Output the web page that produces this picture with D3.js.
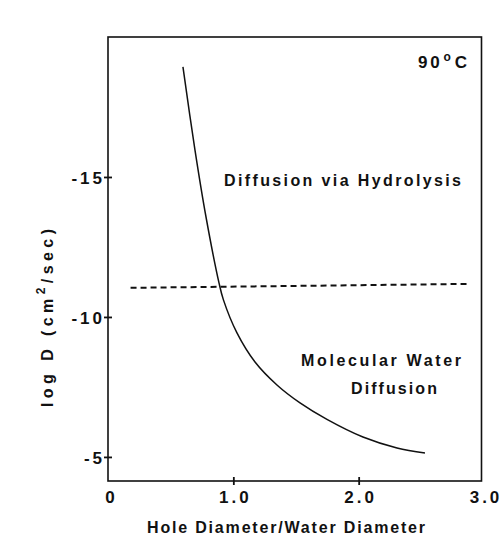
<!DOCTYPE html>
<html>
<head>
<meta charset="utf-8">
<script src="https://cdn.jsdelivr.net/npm/d3@7"></script>
<style>
  body { margin: 0; background: #fff; }
  text { font-family: "Liberation Sans", Arial, sans-serif; font-weight: bold; fill: #111; }
</style>
</head>
<body>
<svg id="chart" width="503" height="535"></svg>
<script>
// curve: hole/water diameter ratio vs log D
const ratio = [0.598, 0.694, 0.782, 0.886, 0.921, 1.029, 1.173, 1.348, 1.532, 1.747, 2.034, 2.306, 2.529];
const logD = [-18.93, -15.96, -13.57, -11.21, -10.61, -9.43, -8.39, -7.57, -6.93, -6.34, -5.71, -5.32, -5.14];

// dashed boundary between the two regimes
const boundaryX = [0.18, 2.87];
const boundaryY = [-11.04, -11.18];

const xTicks = [0, 1, 2, 3];
const xTickLabels = ['0', '1.0', '2.0', '3.0'];
const yTicks = [-15, -10, -5];

const svg = d3.select('#chart');

const x = d3.scaleLinear().domain([0, 3]).range([108, 484]);
// inverted: more negative values sit higher up
const y = d3.scaleLinear().domain([-20, -4.14]).range([37, 481]);

// frame
svg.append('rect')
    .attr('x', x(0)).attr('y', y(-20))
    .attr('width', x(2.98) - x(0)).attr('height', y(-4.14) - y(-20))
    .attr('fill', 'none').attr('stroke', '#111').attr('stroke-width', 1.6);

// left axis, ticks crossing the line
const yAxis = svg.append('g')
    .attr('transform', 'translate(' + x(0) + ',0)')
    .call(d3.axisLeft(y).tickValues(yTicks).tickSize(4).tickFormat((d) => '-' + Math.abs(d)));
yAxis.select('.domain').remove();
yAxis.selectAll('.tick line').attr('x1', 4).attr('x2', -4).attr('stroke', '#111').attr('stroke-width', 1.8);
yAxis.selectAll('.tick text')
    .attr('x', -3).attr('dy', '0.36em')
    .attr('font-size', 17).attr('letter-spacing', 3)
    .style('font-family', '"Liberation Sans", Arial, sans-serif').style('font-weight', 'bold');

// bottom axis
const xAxis = svg.append('g')
    .attr('transform', 'translate(0,' + y(-4.14) + ')')
    .call(d3.axisBottom(x).tickValues(xTicks).tickSize(4).tickFormat((d, i) => xTickLabels[i]));
xAxis.select('.domain').remove();
xAxis.selectAll('.tick line')
    .attr('y1', (d) => (d === 1 || d === 2) ? -4 : 0)
    .attr('y2', (d) => (d === 1 || d === 2) ? 4 : 0)
    .attr('stroke', '#111').attr('stroke-width', 1.8);
xAxis.selectAll('.tick text')
    .attr('y', 10).attr('dy', '0.71em').attr('dx', 1.5)
    .attr('font-size', 17).attr('letter-spacing', 3)
    .style('font-family', '"Liberation Sans", Arial, sans-serif').style('font-weight', 'bold');
xAxis.selectAll('.tick').filter((d) => d === 0).select('text').attr('dx', 3);

// diffusion curve
const curvePts = ratio.map((r, i) => [r, logD[i]]);
svg.append('path')
    .datum(curvePts)
    .attr('fill', 'none').attr('stroke', '#111').attr('stroke-width', 1.5)
    .attr('d', d3.line().x((d) => x(d[0])).y((d) => y(d[1])).curve(d3.curveCatmullRom.alpha(0.5)));

// dashed boundary
svg.append('path')
    .datum(boundaryX.map((b, i) => [b, boundaryY[i]]))
    .attr('fill', 'none').attr('stroke', '#111').attr('stroke-width', 2)
    .attr('stroke-dasharray', '6,4')
    .attr('d', d3.line().x((d) => x(d[0])).y((d) => y(d[1])));

// labels
const label = (txt, px, py, size, len) => {
    const t = svg.append('text').attr('x', px).attr('y', py).attr('font-size', size).text(txt);
    if (len) t.attr('textLength', len).attr('lengthAdjust', 'spacing');
    return t;
};

const temp = svg.append('text').attr('x', 418).attr('y', 68).attr('font-size', 17)
    .attr('textLength', 49).attr('lengthAdjust', 'spacing');
temp.append('tspan').text('90');
temp.append('tspan').attr('font-size', 12).attr('dy', -7).attr('dx', 1).text('o');
temp.append('tspan').attr('dy', 7).attr('dx', 1).text('C');

label('Diffusion via Hydrolysis', 224, 186, 16, 237);
label('Molecular Water', 301, 366, 16, 160);
label('Diffusion', 351, 394, 16, 86);
label('Hole Diameter/Water Diameter', 147, 533, 16, 278);

// y title, rotated
const yTitle = svg.append('text')
    .attr('transform', 'translate(53,407) rotate(-90)')
    .attr('font-size', 16)
    .attr('textLength', 178).attr('lengthAdjust', 'spacing');
yTitle.append('tspan').text('log D (cm');
yTitle.append('tspan').attr('font-size', 12).attr('dy', -8).text('2');
yTitle.append('tspan').attr('dy', 8).text('/sec)');
</script>
</body>
</html>
